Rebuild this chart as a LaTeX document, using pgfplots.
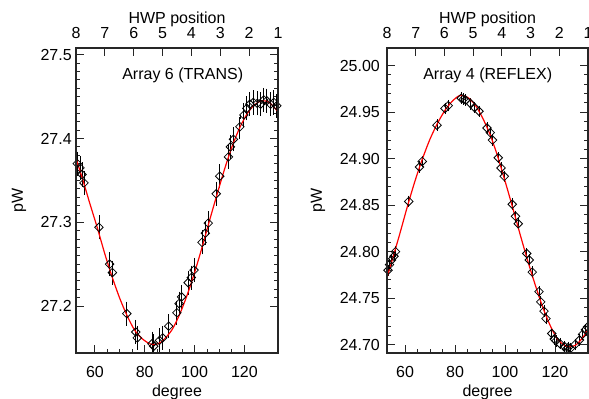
\documentclass[border=0pt]{standalone}
\usepackage{fontspec}
\setmainfont{Liberation Sans}
\usepackage{pgfplots}
\pgfplotsset{compat=1.18}
\pgfdeclareplotmark{rdiamond}{%
  \pgfpathmoveto{\pgfqpoint{0pt}{\pgfplotmarksize}}%
  \pgfpathlineto{\pgfqpoint{\pgfplotmarksize}{0pt}}%
  \pgfpathlineto{\pgfqpoint{0pt}{-\pgfplotmarksize}}%
  \pgfpathlineto{\pgfqpoint{-\pgfplotmarksize}{0pt}}%
  \pgfpathclose\pgfusepathqstroke}
\pgfplotsset{
  panel/.style={
    scale only axis, height=228.75pt, anchor=south west,
    axis line style={line width=0.8pt, black!85},
    tick style={black!85, line width=0.7pt},
    tick align=inside, major tick length=6pt, minor tick length=3pt,
    /pgf/number format/assume math mode=true,
  },
  datamarks/.style={
    only marks, mark=rdiamond, mark size=3.2pt,
    mark options={black, line width=0.6pt, fill=none},
    error bars/.cd, y dir=both, y explicit,
    error bar style={black, line width=0.6pt},
    error mark options={black, mark size=1.5pt, line width=0.6pt},
  },
  fitcurve/.style={red, line width=0.9pt, smooth, no marks},
}
\begin{document}
\fontsize{12}{14}\selectfont
\begin{tikzpicture}
\path[use as bounding box] (0,0) rectangle (441.75pt,299.25pt);

% ---------------- Left panel ----------------
\begin{axis}[panel, at={(57pt,34.5pt)}, width=151.5pt,
  xmin=52.4, xmax=133.5, ymin=27.144, ymax=27.508,
  xtick={60,80,100,120}, minor x tick num=3, xtick pos=left,
  ytick={27.2,27.3,27.4,27.5}, minor y tick num=9,
  yticklabel style={/tikz/xshift=1pt, /pgf/number format/fixed, /pgf/number format/fixed zerofill, /pgf/number format/precision=1},
  xticklabel shift=5.8pt,
  xlabel={degree}, xlabel style={at={(axis description cs:0.5,-0.141)}, anchor=base},
  ylabel={pW}, ylabel style={at={(axis description cs:-0.282,0.5)}, anchor=center},
]
\addplot+[datamarks] table[x=x, y=y, y error=e] {
x y e
52.9 27.370 0.012
54.0 27.365 0.012
54.8 27.357 0.012
55.6 27.347 0.012
61.6 27.294 0.012
65.9 27.250 0.012
67.0 27.240 0.012
72.8 27.191 0.012
76.4 27.169 0.012
77.0 27.162 0.012
82.9 27.155 0.012
83.6 27.152 0.012
85.9 27.159 0.012
87.2 27.162 0.012
89.6 27.176 0.012
92.9 27.192 0.012
93.8 27.203 0.012
94.8 27.211 0.012
97.4 27.228 0.012
98.7 27.234 0.012
99.8 27.243 0.012
103.0 27.276 0.012
104.3 27.287 0.012
105.5 27.299 0.012
108.7 27.334 0.012
110.1 27.355 0.012
113.6 27.378 0.012
114.4 27.390 0.012
115.6 27.399 0.012
118.2 27.414 0.012
119.8 27.428 0.012
121.0 27.436 0.012
122.2 27.441 0.012
123.6 27.443 0.012
125.2 27.442 0.012
126.5 27.441 0.012
127.8 27.446 0.012
129.0 27.445 0.012
130.5 27.441 0.012
131.8 27.443 0.012
133.0 27.439 0.012
};
\addplot[fitcurve] coordinates {
(52.4,27.376) (55,27.352) (58,27.322) (61,27.293) (64,27.262) (67,27.234)
(70,27.209) (73,27.188) (76,27.171) (79,27.161) (82,27.155) (84,27.154)
(86,27.156) (88,27.161) (91,27.172) (94,27.190) (97,27.213) (100,27.240)
(103,27.270) (106,27.302) (109,27.333) (112,27.363) (115,27.390) (118,27.412)
(121,27.429) (124,27.440) (127,27.445) (130,27.443) (133.5,27.432)
};
\node[anchor=west, inner sep=0pt] at (axis description cs:0.228,0.9115) {Array 6 (TRANS)};
\end{axis}
\begin{axis}[panel, at={(57pt,34.5pt)}, width=151.5pt,
  xmin=1, xmax=8, x dir=reverse, ymin=0, ymax=1,
  xtick={1,2,3,4,5,6,7,8}, xtick pos=right, xticklabel pos=right,
  ytick=\empty, minor x tick num=0, xticklabel shift=2.75pt,
  xlabel={HWP position}, xlabel style={at={(axis description cs:0.5,1)}, anchor=base, yshift=18.5pt},
]
\end{axis}

% ---------------- Right panel ----------------
\begin{axis}[panel, at={(290.25pt,34.5pt)}, width=150.75pt,
  xmin=52.8, xmax=133.2, ymin=24.691, ymax=25.019,
  xtick={60,80,100,120}, minor x tick num=3, xtick pos=left,
  ytick={24.70,24.75,24.80,24.85,24.90,24.95,25.00}, minor y tick num=4,
  yticklabel style={/tikz/xshift=-1.2pt, /pgf/number format/fixed, /pgf/number format/fixed zerofill, /pgf/number format/precision=2},
  xticklabel shift=5.8pt,
  xlabel={degree}, xlabel style={at={(axis description cs:0.5,-0.141)}, anchor=base},
  ylabel={pW}, ylabel style={at={(axis description cs:-0.343,0.5)}, anchor=center},
]
\addplot+[datamarks] table[x=x, y=y, y error=e] {
x y e
53.2 24.780 0.004
53.8 24.786 0.004
54.6 24.791 0.004
55.6 24.795 0.004
56.2 24.800 0.004
61.5 24.854 0.004
65.8 24.891 0.004
66.9 24.897 0.004
72.8 24.936 0.004
76.0 24.954 0.004
77.3 24.957 0.004
82.5 24.965 0.004
83.4 24.964 0.004
84.2 24.963 0.004
86.3 24.959 0.004
87.8 24.955 0.004
89.6 24.951 0.004
92.8 24.933 0.004
94.1 24.928 0.004
95.0 24.920 0.004
97.3 24.901 0.004
98.4 24.890 0.004
99.7 24.881 0.004
102.9 24.851 0.004
104.2 24.838 0.004
105.3 24.830 0.004
108.7 24.798 0.004
109.7 24.791 0.004
110.9 24.778 0.004
113.6 24.757 0.004
114.3 24.746 0.004
115.6 24.736 0.004
116.4 24.728 0.004
118.7 24.712 0.004
119.7 24.706 0.004
120.4 24.704 0.004
122.0 24.701 0.004
123.8 24.698 0.004
124.6 24.695 0.004
125.3 24.697 0.004
126.2 24.696 0.004
128.0 24.700 0.004
129.8 24.705 0.004
131.0 24.711 0.004
132.2 24.716 0.004
133.0 24.719 0.004
};
\addplot[fitcurve] coordinates {
(52.8,24.772) (55,24.792) (58,24.820) (61,24.849) (64,24.876) (67,24.900)
(70,24.921) (73,24.938) (76,24.952) (79,24.962) (82,24.968) (85,24.966)
(88,24.958) (91,24.944) (94,24.926) (97,24.903) (100,24.876) (103,24.848)
(106,24.819) (109,24.791) (112,24.765) (115,24.741) (118,24.721) (121,24.706)
(124,24.699) (126,24.698) (128,24.699) (130,24.704) (132,24.711) (133.2,24.718)
};
\node[anchor=west, inner sep=0pt] at (axis description cs:0.179,0.9115) {Array 4 (REFLEX)};
\end{axis}
\begin{axis}[panel, at={(290.25pt,34.5pt)}, width=150.75pt,
  xmin=1, xmax=8, x dir=reverse, ymin=0, ymax=1,
  xtick={1,2,3,4,5,6,7,8}, xtick pos=right, xticklabel pos=right,
  ytick=\empty, minor x tick num=0, xticklabel shift=2.75pt,
  xlabel={HWP position}, xlabel style={at={(axis description cs:0.5,1)}, anchor=base, yshift=18.5pt},
]
\end{axis}
\end{tikzpicture}
\end{document}
